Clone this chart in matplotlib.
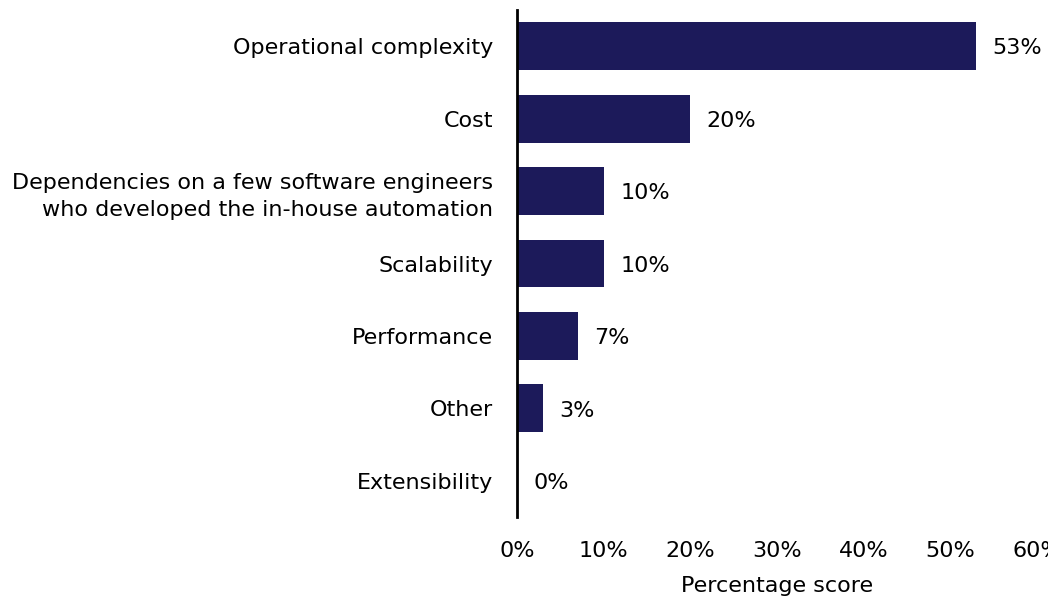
import matplotlib
matplotlib.use("Agg")
import matplotlib.pyplot as plt
from matplotlib.ticker import FuncFormatter

categories = [
    "Operational complexity",
    "Cost",
    "Dependencies on a few software engineers\nwho developed the in-house automation",
    "Scalability",
    "Performance",
    "Other",
    "Extensibility",
]
values = [53, 20, 10, 10, 7, 3, 0]
xticks = [0, 10, 20, 30, 40, 50, 60]

plt.rcParams['font.family'] = ['DejaVu Sans']

fig = plt.figure(figsize=(10.48, 6.01), dpi=100)
ax = fig.add_axes([517/1048, 1 - 517/601, (1037 - 517)/1048, (517 - 10)/601])

y = list(range(len(categories)))
ax.barh(y, values, height=0.66, color="#1c1a5a")
ax.set_ylim(len(categories) - 0.5, -0.5)
ax.set_xlim(0, 60)
ax.set_yticks(y)
ax.set_yticklabels(categories, fontsize=16, linespacing=1.45)
ax.set_xticks(xticks)
ax.xaxis.set_major_formatter(FuncFormatter(lambda v, p: f"{int(v)}%"))
ax.tick_params(axis='x', labelsize=16, length=0, pad=17)
ax.tick_params(axis='y', length=0, pad=17)
for s in ["top", "right", "bottom"]:
    ax.spines[s].set_visible(False)
ax.spines["left"].set_linewidth(2)
ax.spines["left"].set_color("black")
ax.set_xlabel("Percentage score", fontsize=16, labelpad=11)

for yi, v in zip(y, values):
    ax.text(v + 1.9, yi + 0.03, f"{v}%", va="center", ha="left", fontsize=16)

fig.savefig("out.png", dpi=100)
